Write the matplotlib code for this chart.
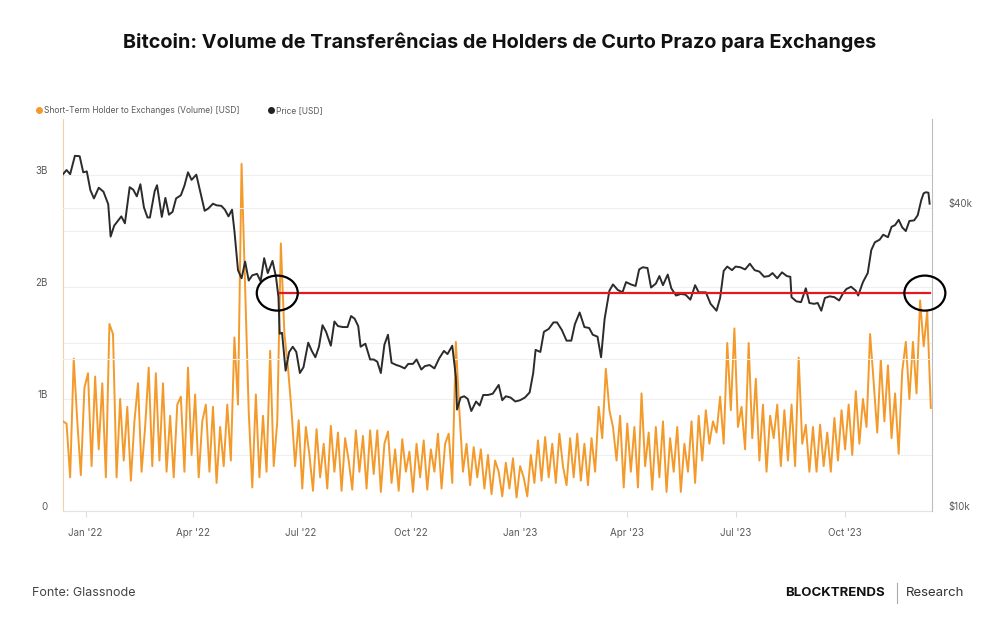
import matplotlib
matplotlib.use("Agg")
import matplotlib.pyplot as plt
import matplotlib.dates as mdates
import pandas as pd
from matplotlib.lines import Line2D
from matplotlib.patches import Ellipse
from matplotlib.transforms import ScaledTranslation


TITLE = "Bitcoin: Volume de Transferências de Holders de Curto Prazo para Exchanges"
SOURCE = "Fonte: Glassnode"

ORANGE = "#f39a2b"
BLACK = "#2b2b2b"
RED = "#e3191c"
GRAY = "#5a5a5a"

# STH -> exchanges volume, billions of USD, one value every 3 days from 2021-12-13
VOLUME_START = "2021-12-13"
VOLUME_STEP = "3D"
volume_b = [
    0.80, 0.78, 0.30, 1.36, 0.80, 0.32, 1.10, 1.23, 0.40, 1.20, 0.55, 1.14, 0.30, 1.67, 1.58, 0.30, 1.00,
    0.45, 0.93, 0.27, 0.80, 1.14, 0.35, 0.75, 1.28, 0.40, 1.23,
    0.45, 1.14, 0.35, 0.85, 0.30, 0.95, 1.02, 0.35, 1.28, 0.50,
    1.04, 0.30, 0.80, 0.95, 0.35, 0.93, 0.25, 0.75, 0.40, 0.95,
    0.45, 1.55, 0.95, 3.10, 2.00, 0.89, 0.21, 1.04, 0.30, 0.85, 0.35, 1.43, 0.40, 0.80, 2.39, 1.58, 1.28,
    0.89, 0.40, 0.81, 0.20, 0.75, 0.50, 0.18, 0.73, 0.30, 0.60, 0.20, 0.76, 0.35, 0.70, 0.18, 0.65, 0.45,
    0.19, 0.72, 0.35, 0.67, 0.20, 0.72, 0.33, 0.72, 0.17, 0.60, 0.71, 0.25, 0.55, 0.18, 0.64, 0.35, 0.53,
    0.17, 0.60, 0.30, 0.63, 0.19, 0.55, 0.35, 0.69, 0.20, 0.60, 0.69, 0.25, 1.51, 0.89, 0.35, 0.60, 0.23,
    0.57, 0.30, 0.55,
    0.20, 0.50, 0.15, 0.45, 0.35, 0.13, 0.43, 0.20, 0.47, 0.12, 0.40, 0.30, 0.13, 0.50, 0.25, 0.63, 0.27, 0.66,
    0.30, 0.60, 0.25, 0.69, 0.40, 0.23, 0.65, 0.30, 0.69, 0.27, 0.60, 0.23, 0.65, 0.35, 0.93, 0.65, 1.27,
    0.90, 0.75, 0.45, 0.85, 0.21, 0.78,
    0.35, 0.75, 0.21, 1.05, 0.40, 0.70, 0.19, 0.75, 0.30, 0.80, 0.17, 0.65, 0.35, 0.75, 0.17, 0.60, 0.35,
    0.80, 0.25, 0.85, 0.45, 0.90, 0.60, 0.80, 0.70, 1.02, 0.60,
    1.50, 0.90, 1.63, 0.75, 0.93, 0.55, 1.50, 0.65, 1.18, 0.45, 0.95, 0.35, 0.85, 0.65, 0.95, 0.40, 0.90,
    0.45, 0.95, 0.40, 1.37, 0.60, 0.77, 0.35, 0.75, 0.35, 0.77, 0.40, 0.70, 0.35, 0.83, 0.45, 0.90, 0.55,
    0.95, 0.50, 1.07, 0.60, 1.00, 0.75, 1.58, 1.15, 0.70, 1.35, 0.80, 1.30, 0.65, 1.05, 0.51, 1.25, 1.51,
    1.00, 1.51, 1.05, 1.88, 1.47, 1.78, 0.92,
]

# BTC price, thousands of USD
price_dates = [
    "2021-12-13", "2021-12-16", "2021-12-19", "2021-12-23", "2021-12-27", "2021-12-30",
    "2022-01-02", "2022-01-05", "2022-01-08", "2022-01-12", "2022-01-16", "2022-01-20", "2022-01-22",
    "2022-01-25", "2022-01-28", "2022-01-31",
    "2022-02-03", "2022-02-07", "2022-02-10", "2022-02-13", "2022-02-16", "2022-02-19", "2022-02-22",
    "2022-02-24", "2022-02-28",
    "2022-03-02", "2022-03-06", "2022-03-09", "2022-03-12", "2022-03-15", "2022-03-18", "2022-03-22",
    "2022-03-25", "2022-03-28", "2022-03-31",
    "2022-04-04", "2022-04-07", "2022-04-11", "2022-04-14", "2022-04-18", "2022-04-21", "2022-04-25",
    "2022-04-28",
    "2022-05-01", "2022-05-04", "2022-05-06", "2022-05-09", "2022-05-12", "2022-05-15", "2022-05-18",
    "2022-05-21", "2022-05-25", "2022-05-28", "2022-05-31",
    "2022-06-03", "2022-06-07", "2022-06-10", "2022-06-12", "2022-06-13", "2022-06-15", "2022-06-18",
    "2022-06-21", "2022-06-24", "2022-06-27", "2022-06-30",
    "2022-07-03", "2022-07-07", "2022-07-10", "2022-07-13", "2022-07-16", "2022-07-19", "2022-07-22",
    "2022-07-26", "2022-07-29",
    "2022-08-01", "2022-08-05", "2022-08-09", "2022-08-12", "2022-08-15", "2022-08-18", "2022-08-20",
    "2022-08-24", "2022-08-28", "2022-08-31",
    "2022-09-03", "2022-09-06", "2022-09-09", "2022-09-12", "2022-09-15", "2022-09-19", "2022-09-22",
    "2022-09-26", "2022-09-29",
    "2022-10-03", "2022-10-06", "2022-10-10", "2022-10-13", "2022-10-17", "2022-10-21", "2022-10-25",
    "2022-10-29",
    "2022-11-01", "2022-11-05", "2022-11-08", "2022-11-09", "2022-11-12", "2022-11-15", "2022-11-18",
    "2022-11-21", "2022-11-25", "2022-11-28",
    "2022-12-01", "2022-12-05", "2022-12-09", "2022-12-14", "2022-12-17", "2022-12-20", "2022-12-24",
    "2022-12-28",
    "2023-01-01", "2023-01-05", "2023-01-09", "2023-01-12", "2023-01-14", "2023-01-18", "2023-01-21",
    "2023-01-25", "2023-01-29",
    "2023-02-01", "2023-02-05", "2023-02-09", "2023-02-13", "2023-02-16", "2023-02-20", "2023-02-24",
    "2023-02-28",
    "2023-03-03", "2023-03-07", "2023-03-10", "2023-03-13", "2023-03-17", "2023-03-20", "2023-03-24",
    "2023-03-28", "2023-03-31",
    "2023-04-04", "2023-04-08", "2023-04-11", "2023-04-14", "2023-04-18", "2023-04-21", "2023-04-25",
    "2023-04-28",
    "2023-05-01", "2023-05-05", "2023-05-08", "2023-05-12", "2023-05-16", "2023-05-20", "2023-05-24",
    "2023-05-28", "2023-05-31",
    "2023-06-03", "2023-06-06", "2023-06-10", "2023-06-15", "2023-06-18", "2023-06-21", "2023-06-24",
    "2023-06-28",
    "2023-07-01", "2023-07-05", "2023-07-09", "2023-07-13", "2023-07-17", "2023-07-21", "2023-07-25",
    "2023-07-29",
    "2023-08-01", "2023-08-05", "2023-08-09", "2023-08-13", "2023-08-16", "2023-08-17", "2023-08-21",
    "2023-08-25", "2023-08-29",
    "2023-09-01", "2023-09-05", "2023-09-08", "2023-09-11", "2023-09-14", "2023-09-18", "2023-09-22",
    "2023-09-26", "2023-09-29",
    "2023-10-02", "2023-10-06", "2023-10-10", "2023-10-12", "2023-10-16", "2023-10-20", "2023-10-23",
    "2023-10-26", "2023-10-30",
    "2023-11-02", "2023-11-06", "2023-11-09", "2023-11-12", "2023-11-15", "2023-11-18", "2023-11-21",
    "2023-11-24", "2023-11-28",
    "2023-12-01", "2023-12-04", "2023-12-06", "2023-12-08", "2023-12-10", "2023-12-11",
]
price_k = [
    46.7, 47.6, 46.7, 50.8, 50.7, 47.1,
    47.3, 43.4, 41.8, 43.9, 43.1, 40.7, 35.1, 36.9, 37.7, 38.5,
    37.3, 44.0, 43.5, 42.2, 44.6, 40.1, 38.3, 38.3, 43.2,
    44.4, 38.4, 41.9, 38.8, 39.3, 41.8, 42.4, 44.3, 47.1, 45.5,
    46.6, 43.4, 39.5, 39.9, 40.8, 40.5, 40.4, 39.7,
    38.5, 39.7, 36.0, 30.1, 29.0, 31.3, 28.7, 29.4, 29.6, 28.6, 31.8,
    29.7, 31.4, 29.1, 26.6, 22.5, 22.6, 19.0, 20.7, 21.2, 20.7, 18.8,
    19.3, 21.6, 20.8, 20.2, 21.2, 23.4, 22.7, 21.3, 23.8,
    23.3, 23.2, 23.2, 24.4, 24.1, 23.3, 21.2, 21.5, 20.0, 20.0,
    19.8, 18.8, 21.4, 22.4, 19.7, 19.5, 19.4, 19.2, 19.6,
    19.6, 20.0, 19.1, 19.4, 19.5, 19.2, 20.1, 20.8,
    20.5, 21.3, 18.5, 15.9, 16.8, 16.9, 16.7, 15.8, 16.5, 16.2,
    17.0, 17.0, 17.1, 17.8, 16.6, 16.9, 16.8, 16.5,
    16.6, 16.8, 17.2, 18.8, 20.9, 20.7, 22.7, 23.0, 23.7,
    23.7, 22.9, 21.8, 21.8, 23.5, 24.8, 23.2, 23.1,
    22.4, 22.2, 20.2, 24.1, 27.4, 28.2, 27.5, 27.2, 28.5,
    28.2, 28.0, 30.2, 30.5, 30.4, 27.8, 28.3, 29.3,
    28.1, 29.5, 27.7, 26.8, 27.0, 26.9, 26.3, 28.1, 27.2,
    27.2, 27.2, 25.8, 25.0, 26.5, 30.0, 30.6, 30.1,
    30.6, 30.5, 30.2, 31.0, 30.1, 29.9, 29.2, 29.3,
    29.7, 29.0, 29.8, 29.3, 29.2, 26.6, 26.1, 26.0, 27.7,
    25.9, 25.8, 25.9, 25.0, 26.5, 26.7, 26.6, 26.2, 27.0,
    27.6, 27.9, 27.4, 26.8, 28.5, 29.7, 33.0, 34.2, 34.6,
    35.4, 35.0, 36.7, 37.0, 37.9, 36.6, 36.0, 37.7, 37.8,
    38.7, 41.5, 42.8, 43.0, 42.9, 40.8,
]

# annotation: horizontal level and the two circled points
LEVEL_K = 27.1
LEVEL_START = "2022-06-13"
LEVEL_END = "2023-12-11"
CIRCLE_DATES = ["2022-06-11", "2023-12-07"]

VOLUME_TICKS = [0, 1, 2, 3]
VOLUME_TICK_LABELS = ["0", "1B", "2B", "3B"]
PRICE_TICKS = [10, 20, 40]
PRICE_TICK_LABELS = ["$10k", "", "$40k"]

X_START = "2021-12-13"
X_END = "2023-12-13"


def main():
    plt.rcParams["font.family"] = ["Inter", "DejaVu Sans"]

    fig = plt.figure(figsize=(10, 6.3), dpi=100)
    ax = fig.add_axes([0.063, 0.189, 0.869, 0.622])
    ax2 = ax.twinx()

    vol_dates = pd.date_range(VOLUME_START, periods=len(volume_b), freq=VOLUME_STEP)
    ax.plot(vol_dates, volume_b, color=ORANGE, lw=1.4, zorder=3)

    p_dates = pd.to_datetime(price_dates)
    ax2.plot(p_dates, price_k, color=BLACK, lw=1.4, zorder=3)
    ax2.set_yscale("log")

    # red level line and circles
    ax2.plot(pd.to_datetime([LEVEL_START, LEVEL_END]), [LEVEL_K, LEVEL_K], color=RED, lw=1.6, zorder=4)
    for d in CIRCLE_DATES:
        trans = fig.dpi_scale_trans + ScaledTranslation(
            mdates.date2num(pd.Timestamp(d)), LEVEL_K, ax2.transData)
        e = Ellipse((0, 0), 0.41, 0.35, transform=trans, fill=False, edgecolor="black", lw=1.6, zorder=5)
        ax2.add_patch(e)
        e.set_clip_on(False)

    ax.set_xlim(pd.Timestamp(X_START), pd.Timestamp(X_END))
    ax.set_ylim(0, 3.5)
    ax2.set_ylim(10, 60.1)

    ax.set_yticks(VOLUME_TICKS)
    ax.set_yticklabels(VOLUME_TICK_LABELS)
    ax.set_yticks([0.5, 1.5, 2.5], minor=True)
    ax2.set_yticks(PRICE_TICKS)
    ax2.set_yticklabels(PRICE_TICK_LABELS)
    ax2.minorticks_off()

    ax.grid(True, axis="y", which="both", color="#efefef", lw=0.8)
    ax2.grid(True, axis="y", which="major", color="#efefef", lw=0.8)
    ax.set_axisbelow(True)

    ax.xaxis.set_major_locator(mdates.MonthLocator(bymonth=[1, 4, 7, 10]))
    ax.xaxis.set_major_formatter(mdates.DateFormatter("%b '%y"))

    ax.tick_params(axis="x", length=4, color="#dddddd", labelsize=7, labelcolor=GRAY, pad=8)
    ax.tick_params(axis="y", which="both", length=0, labelsize=7, labelcolor=GRAY, pad=11)
    ax2.tick_params(axis="y", length=0, labelsize=7, labelcolor=GRAY, pad=12)

    # value labels sit a little above their grid lines
    lift = ScaledTranslation(0, 0.05, fig.dpi_scale_trans)
    for lab in ax.get_yticklabels() + ax2.get_yticklabels():
        lab.set_transform(lab.get_transform() + lift)

    for a in (ax, ax2):
        a.spines["top"].set_visible(False)
    ax.spines["left"].set_color("#f3d2a6")
    ax.spines["bottom"].set_color("#e3e3e3")
    ax.spines["right"].set_visible(False)
    ax2.spines["left"].set_visible(False)
    ax2.spines["bottom"].set_visible(False)
    ax2.spines["right"].set_color("#bdbdbd")

    handles = [
        Line2D([], [], ls="none", marker="o", ms=4, color=ORANGE),
        Line2D([], [], ls="none", marker="o", ms=4, color="#222222"),
    ]
    fig.legend(handles, ["Short-Term Holder to Exchanges (Volume) [USD]", "Price [USD]"],
               loc="center left", bbox_to_anchor=(0.031, 0.825), ncol=2, frameon=False,
               fontsize=6.1, labelcolor=GRAY, handletextpad=0.1, columnspacing=3.2,
               borderaxespad=0, handlelength=1)

    fig.text(0.5, 0.933, TITLE, ha="center", va="center", fontsize=14.3, fontweight="bold", color="#111111")
    fig.text(0.032, 0.059, SOURCE, ha="left", va="center", fontsize=9, color="#444444")
    fig.text(0.785, 0.059, "BLOCKTRENDS", ha="left", va="center", fontsize=9.5,
             fontweight="bold", color="#111111")
    fig.add_artist(Line2D([0.897, 0.897], [0.043, 0.075], color="#aaaaaa", lw=0.8))
    fig.text(0.906, 0.059, "Research", ha="left", va="center", fontsize=9.5, color="#333333")

    fig.savefig("out.png", dpi=100)
    plt.close(fig)


if __name__ == "__main__":
    main()
